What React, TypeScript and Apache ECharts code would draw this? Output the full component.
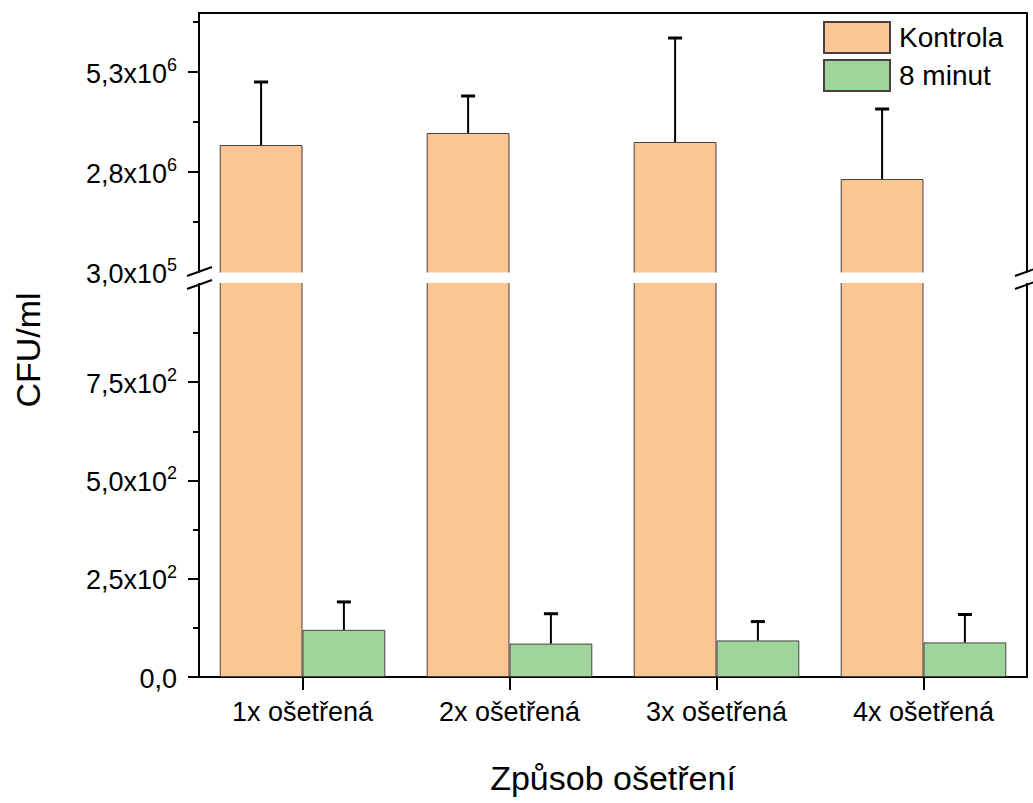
import React, { useEffect, useRef } from "react";
import * as echarts from "echarts";

const categories = ["1x ošetřená", "2x ošetřená", "3x ošetřená", "4x ošetřená"];
const seriesNames = ["Kontrola", "8 minut"];
const kontrolaValues = [3.475e6, 3.775e6, 3.55e6, 2.625e6];
const kontrolaErrTop = [5.05e6, 4.7e6, 6.15e6, 4.375e6];
const minutValues = [120, 85, 93, 88];
const minutErrTop = [191, 161, 141, 159];

const upperMin = 2.5e5;
const upperMax = 6.775e6;
const upperTickValues = [3e5, 2.8e6, 5.3e6];
const upperTickMantissas = ["3,0", "2,8", "5,3"];
const upperTickExponents = ["5", "6", "6"];
const upperMinorTicks = [1.55e6, 4.05e6, 6.55e6];

const lowerMin = 0;
const lowerMax = 1005;
const lowerTickValues = [0, 250, 500, 750];
const lowerTickMantissas = ["0,0", "2,5", "5,0", "7,5"];
const lowerTickExponents = ["", "2", "2", "2"];
const lowerMinorTicks = [125, 375, 625, 875];

const xTitle = "Způsob ošetření";
const yTitle = "CFU/ml";

const FONT = "'Liberation Sans', Arial, sans-serif";
const ORANGE = "#FCC594";
const GREEN = "#9DD59B";
const BORDER = "#4a4040";

function fmt(values: number[], mant: string[], exps: string[]) {
  return (v: number) => {
    const i = values.findIndex((t) => Math.abs(t - v) < 1e-6 * Math.max(1, Math.abs(t)));
    if (i < 0) return "";
    if (!exps[i]) return "{m|" + mant[i] + "}";
    return "{m|" + mant[i] + "x10}{e|" + exps[i] + "}";
  };
}

const rich = {
  m: { fontSize: 27, fontFamily: FONT, color: "#000", lineHeight: 30, verticalAlign: "bottom" },
  e: { fontSize: 18, fontFamily: FONT, color: "#000", lineHeight: 20, verticalAlign: "bottom", padding: [0, 0, 13, 0] },
};

function errorRender(offset: number) {
  return (params: any, api: any) => {
    const c = api.value(0);
    const base = api.coord([c, api.value(1)]);
    const top = api.coord([c, api.value(2)]);
    const band = api.size([1, 0])[0];
    const cx = base[0] + offset * band;
    return {
      type: "group",
      children: [
        { type: "line", shape: { x1: cx, y1: base[1], x2: cx, y2: top[1] }, style: { stroke: "#000", lineWidth: 2 } },
        { type: "line", shape: { x1: cx - 7, y1: top[1], x2: cx + 7, y2: top[1] }, style: { stroke: "#000", lineWidth: 3 } },
      ],
    };
  };
}

export default function App() {
  const ref = useRef<HTMLDivElement>(null);
  useEffect(() => {
    document.body.style.margin = "0";
    const chart = echarts.init(ref.current!, null, { renderer: "svg" });
    const L = 199;
    const R = 1033 - 1027;
    const upperTop = 13;
    const upperBottomY = 274;
    const lowerTopY = 282;
    const lowerBottomY = 677;
    const axisLine = { show: true, lineStyle: { color: "#000", width: 2 } };

    const breakLines = (x: number) => [
      { type: "line", shape: { x1: x - 12, y1: 276, x2: x + 13, y2: 267 }, style: { stroke: "#000", lineWidth: 2 }, z: 100 },
      { type: "line", shape: { x1: x - 12, y1: 289, x2: x + 13, y2: 280 }, style: { stroke: "#000", lineWidth: 2 }, z: 100 },
    ];

    chart.setOption({
      animation: false,
      backgroundColor: "#fff",
      textStyle: { fontFamily: FONT },
      grid: [
        { left: L, right: R, top: upperTop, height: upperBottomY - upperTop },
        { left: L, right: R, top: lowerTopY, height: lowerBottomY - lowerTopY },
      ],
      legend: {
        data: seriesNames,
        orient: "vertical",
        left: 818,
        top: 16,
        itemWidth: 66,
        itemHeight: 31,
        itemGap: 5,
        textStyle: { fontSize: 28, fontFamily: FONT, color: "#000", padding: [0, 0, 0, 4] },
        icon: "rect",
      },
      xAxis: [
        {
          type: "category", gridIndex: 0, data: categories, position: "top",
          axisLine, axisTick: { show: false }, axisLabel: { show: false },
        },
        {
          type: "category", gridIndex: 1, data: categories, position: "bottom",
          axisLine,
          axisTick: { show: true, alignWithLabel: true, length: 13, lineStyle: { color: "#000", width: 2 } },
          axisLabel: { fontSize: 27, fontFamily: FONT, color: "#000", margin: 21 },
          name: xTitle, nameLocation: "middle", nameGap: 84,
          nameTextStyle: { fontSize: 34, fontFamily: FONT, color: "#000" },
        },
      ],
      yAxis: [
        {
          type: "value", gridIndex: 0, min: upperMin, max: upperMax, position: "left",
          axisLine,
          axisTick: { show: true, length: 11, lineStyle: { color: "#000", width: 2 }, customValues: upperTickValues.slice(1) },
          axisLabel: { formatter: fmt(upperTickValues, upperTickMantissas, upperTickExponents), rich, margin: 22, customValues: upperTickValues },
          splitLine: { show: false },
        },
        {
          type: "value", gridIndex: 0, min: upperMin, max: upperMax, position: "left",
          axisLine: { show: false },
          axisTick: { show: true, length: 6, lineStyle: { color: "#000", width: 2 }, customValues: upperMinorTicks },
          axisLabel: { show: false }, splitLine: { show: false },
        },
        {
          type: "value", gridIndex: 0, min: upperMin, max: upperMax, position: "right",
          axisLine, axisTick: { show: false }, axisLabel: { show: false }, splitLine: { show: false },
        },
        {
          type: "value", gridIndex: 1, min: lowerMin, max: lowerMax, position: "left",
          axisLine,
          axisTick: { show: true, length: 11, lineStyle: { color: "#000", width: 2 }, customValues: lowerTickValues },
          axisLabel: { formatter: fmt(lowerTickValues, lowerTickMantissas, lowerTickExponents), rich, margin: 22, customValues: lowerTickValues },
          splitLine: { show: false },
        },
        {
          type: "value", gridIndex: 1, min: lowerMin, max: lowerMax, position: "left",
          axisLine: { show: false },
          axisTick: { show: true, length: 6, lineStyle: { color: "#000", width: 2 }, customValues: lowerMinorTicks },
          axisLabel: { show: false }, splitLine: { show: false },
        },
        {
          type: "value", gridIndex: 1, min: lowerMin, max: lowerMax, position: "right",
          axisLine, axisTick: { show: false }, axisLabel: { show: false }, splitLine: { show: false },
        },
      ],
      series: [
        {
          name: seriesNames[0], type: "bar", xAxisIndex: 0, yAxisIndex: 0, data: kontrolaValues,
          barWidth: "40%", barGap: "0%",
          itemStyle: { color: ORANGE, borderColor: BORDER, borderWidth: 1 },
        },
        {
          name: seriesNames[1], type: "bar", xAxisIndex: 0, yAxisIndex: 0, data: minutValues.map(() => null),
          barWidth: "40%", barGap: "0%",
          itemStyle: { color: GREEN, borderColor: BORDER, borderWidth: 1 },
        },
        {
          name: seriesNames[0], type: "bar", xAxisIndex: 1, yAxisIndex: 3, data: kontrolaValues,
          barWidth: "40%", barGap: "0%",
          itemStyle: { color: ORANGE, borderColor: BORDER, borderWidth: 1 },
        },
        {
          name: seriesNames[1], type: "bar", xAxisIndex: 1, yAxisIndex: 3, data: minutValues,
          barWidth: "40%", barGap: "0%",
          itemStyle: { color: GREEN, borderColor: BORDER, borderWidth: 1 },
        },
        {
          name: seriesNames[0] + " err", type: "custom", xAxisIndex: 0, yAxisIndex: 0, z: 10,
          data: kontrolaValues.map((v, i) => [i, v, kontrolaErrTop[i]]),
          renderItem: errorRender(-0.2), silent: true,
        },
        {
          name: seriesNames[1] + " err", type: "custom", xAxisIndex: 1, yAxisIndex: 3, z: 10,
          data: minutValues.map((v, i) => [i, v, minutErrTop[i]]),
          renderItem: errorRender(0.2), silent: true,
        },
      ],
      graphic: [
        {
          type: "rect", shape: { x: 186, y: 272.5, width: 850, height: 10.5 },
          style: { fill: "#fff" }, z: 50, silent: true,
        },
        ...breakLines(199),
        ...breakLines(1027),
        {
          type: "text", x: 28, y: 350, rotation: Math.PI / 2,
          style: { text: yTitle, fontSize: 34, fontFamily: FONT, fill: "#000", align: "center", verticalAlign: "middle" },
        },
      ],
    });
    return () => chart.dispose();
  }, []);
  return <div ref={ref} style={{ width: 1033, height: 803 }} />;
}
